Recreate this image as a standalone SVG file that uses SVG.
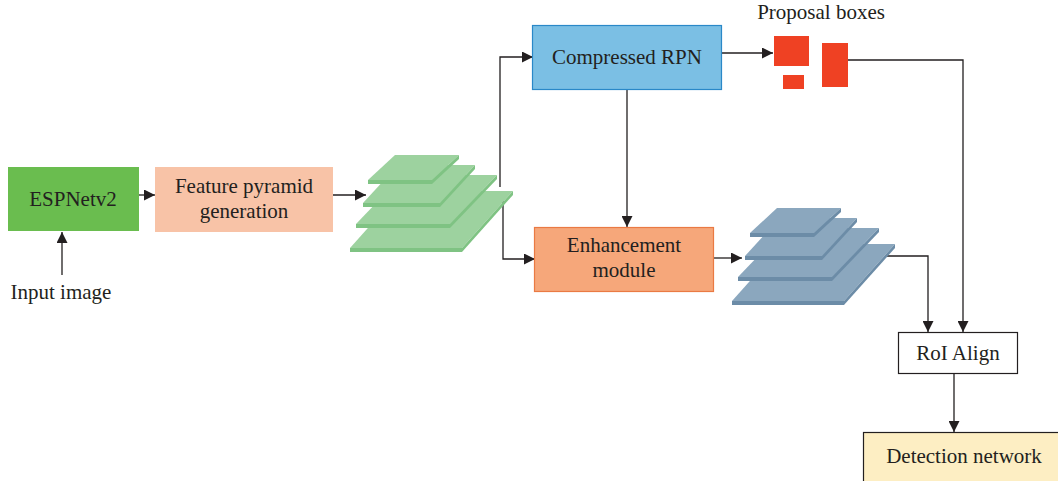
<svg xmlns="http://www.w3.org/2000/svg" width="1058" height="481" viewBox="0 0 1058 481">
  <defs>
    <style>
      .lbl { font-family: "Liberation Serif", "DejaVu Serif", serif; font-size: 21px; fill: #231f20; text-anchor: middle; }
      .wire { fill: none; stroke: #231f20; stroke-width: 1.3; }
      .prop { fill: #ef4123; }
    </style>
    <marker id="arrow" viewBox="0 0 10 10" refX="10" refY="5" markerWidth="11" markerHeight="11" markerUnits="userSpaceOnUse" orient="auto">
      <path d="M0,0 L10,5 L0,10 Z" fill="#231f20"/>
    </marker>
    <!-- one stack of four feature-map slabs, bottom slab drawn first;
         top faces take currentColor, edge faces inherit the fill -->
    <g id="stack">
      <polygon fill="currentColor" points="350,248 462,248 513,191 401,191"/>
      <polygon points="350,248 462,248 462,252 350,252"/>
      <polygon points="462,248 513,191 513,195 462,252"/>
      <polygon fill="currentColor" points="356,224 450,224 497,175 403,175"/>
      <polygon points="356,224 450,224 450,228 356,228"/>
      <polygon points="450,224 497,175 497,179 450,228"/>
      <polygon fill="currentColor" points="363,203 440,203 475,165 398,165"/>
      <polygon points="363,203 440,203 440,207 363,207"/>
      <polygon points="440,203 475,165 475,169 440,207"/>
      <polygon fill="currentColor" points="368,180 432,180 459,155 395,155"/>
      <polygon points="368,180 432,180 432,184 368,184"/>
      <polygon points="432,180 459,155 459,159 432,184"/>
    </g>
  </defs>

  <rect width="1058" height="481" fill="#ffffff"/>

  <g id="connectors">
    <line class="wire" x1="62" y1="275" x2="62" y2="232" marker-end="url(#arrow)"/>
    <line class="wire" x1="138" y1="195" x2="155" y2="195" marker-end="url(#arrow)"/>
    <line class="wire" x1="333" y1="195" x2="366" y2="195" marker-end="url(#arrow)"/>
    <polyline class="wire" points="500,187 500,57 533,57" marker-end="url(#arrow)"/>
    <polyline class="wire" points="503,196 503,259 535,259" marker-end="url(#arrow)"/>
    <line class="wire" x1="627" y1="90" x2="627" y2="227" marker-end="url(#arrow)"/>
    <line class="wire" x1="722" y1="53" x2="773" y2="53" marker-end="url(#arrow)"/>
    <line class="wire" x1="714" y1="258" x2="742" y2="258" marker-end="url(#arrow)"/>
    <polyline class="wire" points="848,60 963,60 963,332" marker-end="url(#arrow)"/>
    <polyline class="wire" points="886,256 928,256 928,332" marker-end="url(#arrow)"/>
    <line class="wire" x1="954" y1="374" x2="954" y2="432" marker-end="url(#arrow)"/>
  </g>

  <g id="input-image">
    <text class="lbl" x="61" y="299">Input image</text>
  </g>

  <g id="espnetv2">
    <rect x="8" y="167" width="131" height="64" fill="#6abd4f"/>
    <text class="lbl" x="73" y="206">ESPNetv2</text>
  </g>

  <g id="feature-pyramid-generation">
    <rect x="155" y="167" width="178" height="65" fill="#f8c3a7"/>
    <text class="lbl" x="244" y="193">Feature pyramid</text>
    <text class="lbl" x="244" y="218">generation</text>
  </g>

  <g id="feature-pyramid">
    <use href="#stack" color="#9dd29f" fill="#7fc383"/>
  </g>

  <g id="compressed-rpn">
    <rect x="532.5" y="25.5" width="189" height="64" fill="#7bbfe4" stroke="#2a88c8" stroke-width="1.2"/>
    <text class="lbl" x="627" y="64">Compressed RPN</text>
  </g>

  <g id="proposal-boxes">
    <text class="lbl" x="821" y="19">Proposal boxes</text>
    <rect class="prop" x="774" y="36" width="35" height="30"/>
    <rect class="prop" x="783" y="75" width="21" height="14"/>
    <rect class="prop" x="822" y="43" width="26" height="44"/>
  </g>

  <g id="enhancement-module">
    <rect x="534.5" y="227.5" width="179" height="64" fill="#f6a77a" stroke="#ea7a43" stroke-width="1.2"/>
    <text class="lbl" x="624" y="252">Enhancement</text>
    <text class="lbl" x="624" y="277">module</text>
  </g>

  <g id="enhanced-pyramid" transform="translate(382,53)">
    <use href="#stack" color="#8ba7be" fill="#6c8ca7"/>
  </g>

  <g id="roi-align">
    <rect x="898.5" y="332.5" width="119" height="41" fill="#ffffff" stroke="#231f20" stroke-width="1.2"/>
    <text class="lbl" x="958" y="360">RoI Align</text>
  </g>

  <g id="detection-network">
    <rect x="863.5" y="432.5" width="210" height="60" fill="#fdeec3" stroke="#231f20" stroke-width="1.2"/>
    <text class="lbl" x="964" y="463">Detection network</text>
  </g>
</svg>
